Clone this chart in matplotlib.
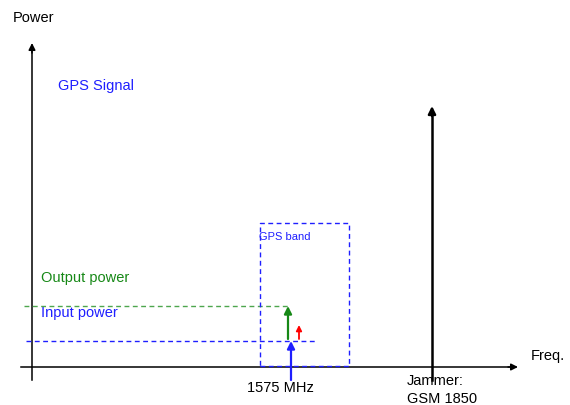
import matplotlib.pyplot as plt

# schematic values in canvas units (x: frequency axis, y: power, downward grows)
axis_origin = (32, 368)
axis_ends = (518, 44)
gps_freq = 291
jammer_freq = 432
jammer_level = 107
input_level = 342
output_level = 307
gain_arrow = (299, 340, 326)
gps_band = (260, 349, 224, 367)

BLUE = "#1f1fff"
GREEN = "#168816"

fig = plt.figure(figsize=(5.7, 4.06), dpi=100)
ax = fig.add_axes([0, 0, 1, 1])
ax.set_xlim(0, 570)
ax.set_ylim(406, 0)
ax.axis("off")

x0, y0 = axis_origin
xe, ye = axis_ends


def arrow(x, y_from, y_to, color, lw, size):
    ax.annotate("", xy=(x, y_to), xytext=(x, y_from),
                arrowprops=dict(arrowstyle="-|>", color=color, lw=lw, mutation_scale=size,
                                shrinkA=0, shrinkB=0))


# axes
ax.plot([21, xe - 8], [y0, y0], color="black", lw=1.1)
ax.annotate("", xy=(xe, y0), xytext=(xe - 10, y0),
            arrowprops=dict(arrowstyle="-|>", color="black", lw=1.1, mutation_scale=10,
                            shrinkA=0, shrinkB=0))
ax.plot([x0, x0], [381, ye + 8], color="black", lw=1.1)
arrow(x0, ye + 10, ye, "black", 1.1, 10)

# jammer
ax.plot([jammer_freq, jammer_freq], [381, jammer_level + 8], color="black", lw=1.8)
arrow(jammer_freq, jammer_level + 10, jammer_level, "black", 1.8, 11)

# power levels
ax.plot([24, gps_freq - 3], [output_level, output_level], color="#4da64d", lw=1.0, dashes=(3.5, 2.5))
ax.plot([26, 317], [input_level, input_level], color=BLUE, lw=1.0, dashes=(3.5, 2.5))

# gps band box
bl, br, bt, bb = gps_band
ax.plot([bl, br, br, bl, bl], [bb, bb, bt, bt, bb], color=BLUE, lw=1.0, dashes=(3.5, 2.5))
ax.text(bl - 1, bt + 13, "GPS band", color=BLUE, fontsize=8, va="center", ha="left",
        family="Liberation Sans")

# signal arrows
arrow(gps_freq, 381, input_level, BLUE, 1.6, 11)
arrow(gps_freq - 3, input_level - 2, output_level, GREEN, 1.6, 11)
gx, gy0, gy1 = gain_arrow
arrow(gx, gy0, gy1, "red", 1.3, 8)

# labels
fs = 10.5
ax.text(13, 18, "Power", fontsize=fs, va="center", family="Liberation Sans")
ax.text(58, 86, "GPS Signal", fontsize=fs, color=BLUE, va="center", family="Liberation Sans")
ax.text(41, 278, "Output power", fontsize=fs, color=GREEN, va="center", family="Liberation Sans")
ax.text(41, 313, "Input power", fontsize=fs, color=BLUE, va="center", family="Liberation Sans")
ax.text(280, 388, "1575 MHz", fontsize=fs, ha="center", va="center", family="Liberation Sans")
ax.text(531, 356, "Freq.", fontsize=fs, va="center", family="Liberation Sans")
ax.text(407, 381, "Jammer:", fontsize=fs, va="center", family="Liberation Sans")
ax.text(407, 399, "GSM 1850", fontsize=fs, va="center", family="Liberation Sans")

fig.savefig("out.png", dpi=100)
